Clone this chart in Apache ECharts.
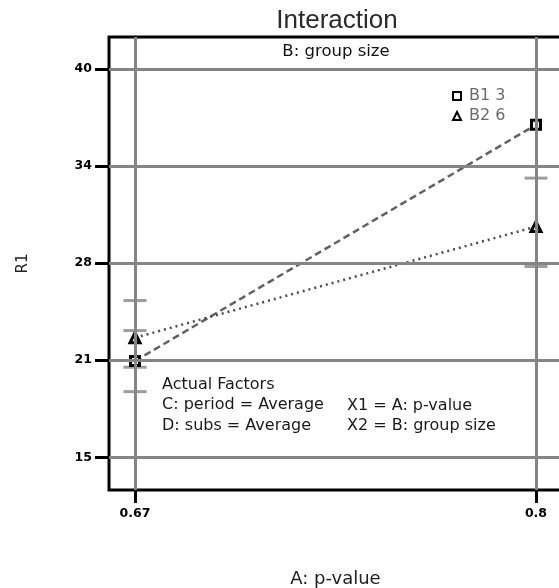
<!DOCTYPE html>
<html>
<head>
<meta charset="utf-8">
<script src="https://cdn.jsdelivr.net/npm/echarts@6/dist/echarts.min.js"></script>
<style>
  html, body { margin: 0; padding: 0; background: #fff; }
  #chart { width: 559px; height: 588px; }
</style>
</head>
<body>
<div id="chart"></div>
<script>
// Levels of factor A (p-value)
const pValues = [0.67, 0.8];
// Predicted R1 for each level of B (group size)
const b1Values = [21.2, 36.4];   // B1 = 3
const b2Values = [22.7, 29.85];  // B2 = 6
const seriesNames = ['B1 3', 'B2 6'];

// LSD bar ends
const lsdBarX = [0.67, 0.67, 0.67, 0.67, 0.8, 0.8];
const lsdBarY = [19.23, 20.8, 23.16, 25.09, 27.28, 32.97];

// Axis ticks and their printed labels
const yTickValues = [15, 21.25, 27.5, 33.75, 40];
const yTickLabels = ['15', '21', '28', '34', '40'];
const xTickValues = [0.67, 0.8];
const xTickLabels = ['0.67', '0.8'];

// Note block inside the plot
const factorNotes = ['Actual Factors', 'C: period = Average', 'D: subs = Average'];
const axisNotes = ['X1 = A: p-value', 'X2 = B: group size'];

function labelFor(values, labels) {
  return function (v) {
    for (let i = 0; i < values.length; i++) {
      if (Math.abs(values[i] - v) < 1e-6) return labels[i];
    }
    return '';
  };
}

const FONT = 'DejaVu Sans';
const chart = echarts.init(document.getElementById('chart'), null, { renderer: 'canvas' });

const noteGraphics = [];
factorNotes.forEach(function (t, i) {
  noteGraphics.push({
    type: 'text', x: 162, y: 385 + i * 20.3,
    style: { text: t, fontSize: 16, fontFamily: FONT, fill: '#1a1a1a',
             align: 'left', textAlign: 'left', verticalAlign: 'middle', textVerticalAlign: 'middle' }
  });
});
axisNotes.forEach(function (t, i) {
  noteGraphics.push({
    type: 'text', x: 347, y: 406 + i * 19.5,
    style: { text: t, fontSize: 16, fontFamily: FONT, fill: '#1a1a1a',
             align: 'left', textAlign: 'left', verticalAlign: 'middle', textVerticalAlign: 'middle' }
  });
});

chart.setOption({
  animation: false,
  backgroundColor: '#fff',
  title: {
    text: 'Interaction',
    left: 332, top: 3,
    textAlign: 'center',
    textStyle: { fontFamily: 'Liberation Sans', fontSize: 26, fontWeight: 'normal', color: '#2a2a2a' }
  },
  graphic: [
    {
      type: 'text', x: 336, y: 52,
      style: { text: 'B: group size', fontSize: 16.5, fontFamily: FONT, fill: '#111',
               align: 'center', textAlign: 'center', verticalAlign: 'middle', textVerticalAlign: 'middle' }
    }
  ].concat(noteGraphics),
  legend: {
    orient: 'vertical',
    left: 452, top: 88, padding: 0,
    itemWidth: 8, itemHeight: 8, itemGap: 4,
    textStyle: { fontFamily: FONT, fontSize: 16, color: '#6a6a6a', padding: [0, 0, 0, 3] },
    data: [
      { name: seriesNames[0], icon: 'rect' },
      { name: seriesNames[1], icon: 'triangle' }
    ]
  },
  grid: {
    left: 109, top: 37, width: 453, height: 453,
    outerBoundsMode: 'none',
    show: true, borderColor: '#000', borderWidth: 3, backgroundColor: 'transparent',
    containLabel: false
  },
  xAxis: {
    type: 'value',
    min: 0.66157, max: 0.80843,
    name: 'A: p-value',
    nameLocation: 'middle', nameGap: 80,
    nameTextStyle: { fontFamily: FONT, fontSize: 18, color: '#222' },
    axisLine: { show: false },
    splitLine: { show: false },
    axisTick: { show: true, length: 13, lineStyle: { color: '#000', width: 3 }, customValues: xTickValues },
    axisLabel: {
      customValues: xTickValues, margin: 17,
      fontFamily: FONT, fontSize: 12.5, fontWeight: 'bold', color: '#000',
      formatter: labelFor(xTickValues, xTickLabels)
    }
  },
  yAxis: {
    type: 'value',
    min: 12.9, max: 42.05,
    name: 'R1',
    nameLocation: 'middle', nameGap: 78, nameRotate: 90,
    nameTextStyle: { fontFamily: FONT, fontSize: 15, color: '#222' },
    axisLine: { show: false },
    splitLine: { show: false },
    axisTick: { show: true, length: 14, lineStyle: { color: '#000', width: 3 }, customValues: yTickValues },
    axisLabel: {
      customValues: yTickValues, margin: 17,
      fontFamily: FONT, fontSize: 12.5, fontWeight: 'bold', color: '#000',
      formatter: labelFor(yTickValues, yTickLabels)
    }
  },
  series: [
    {
      // reference grid lines at the tick positions
      type: 'line', name: 'grid', data: [], z: 1, silent: true,
      markLine: {
        silent: true, symbol: ['none', 'none'], label: { show: false },
        lineStyle: { color: '#858585', width: 3, type: 'solid' },
        emphasis: { disabled: true },
        data: yTickValues.map(function (v) { return { yAxis: v }; })
          .concat(xTickValues.map(function (v) { return { xAxis: v }; }))
      }
    },
    {
      type: 'scatter', name: 'lsd', z: 2, silent: true,
      symbol: 'rect', symbolSize: [23, 3],
      itemStyle: { color: '#858585' },
      data: lsdBarX.map(function (x, i) { return [x, lsdBarY[i]]; })
    },
    {
      type: 'line', name: seriesNames[0], z: 3,
      symbol: 'rect', symbolSize: 9,
      itemStyle: { color: '#fff', borderColor: '#000', borderWidth: 3 },
      lineStyle: { color: '#626262', width: 2.5, type: [7, 4] },
      data: pValues.map(function (x, i) { return [x, b1Values[i]]; })
    },
    {
      type: 'line', name: seriesNames[1], z: 3,
      symbol: 'triangle', symbolSize: 10,
      itemStyle: { color: '#fff', borderColor: '#000', borderWidth: 3 },
      lineStyle: { color: '#4a4a4a', width: 2.5, type: [2, 4] },
      data: pValues.map(function (x, i) { return [x, b2Values[i]]; })
    }
  ]
});
</script>
</body>
</html>
